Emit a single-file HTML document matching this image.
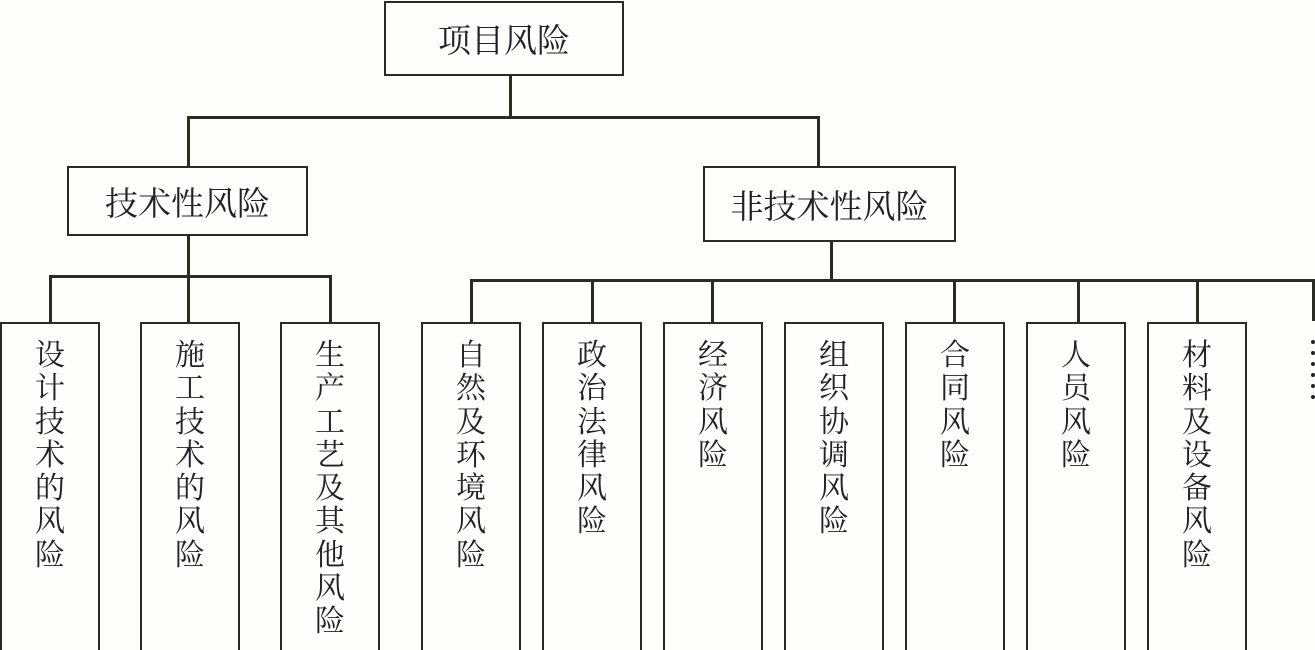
<!DOCTYPE html>
<html><head><meta charset="utf-8"><style>
body{margin:0;background:#fffefa;}
.c{position:relative;width:1315px;height:650px;overflow:hidden;font-family:"Liberation Serif","Noto Serif CJK SC","Noto Sans CJK SC",serif;color:#222;}
.b{position:absolute;border:2.5px solid #2b2b24;box-sizing:border-box;background:#fffefa;}
.h{display:flex;align-items:center;justify-content:center;font-size:33px;}
.v{font-size:30px;line-height:33.3px;width:32px;text-align:center;position:absolute;top:15px;left:50%;margin-left:-16px;}
.l{position:absolute;background:#2b2b24;}
.d{position:absolute;left:1311px;width:4px;height:4px;border-radius:50%;background:#222;}
</style></head><body><div class="c">
<div class="l" style="left:509px;top:75px;width:2.5px;height:43px"></div>
<div class="l" style="left:187px;top:116px;width:633px;height:2.5px"></div>
<div class="l" style="left:187px;top:116px;width:2.5px;height:50px"></div>
<div class="l" style="left:817px;top:116px;width:2.5px;height:50px"></div>
<div class="l" style="left:187px;top:235px;width:2.5px;height:88px"></div>
<div class="l" style="left:49px;top:275px;width:282px;height:2.5px"></div>
<div class="l" style="left:49px;top:275px;width:2.5px;height:48px"></div>
<div class="l" style="left:329px;top:275px;width:2.5px;height:48px"></div>
<div class="l" style="left:830px;top:241px;width:2.5px;height:40px"></div>
<div class="l" style="left:470px;top:279px;width:845px;height:2.5px"></div>
<div class="l" style="left:470px;top:279px;width:2.5px;height:44px"></div>
<div class="l" style="left:591px;top:279px;width:2.5px;height:44px"></div>
<div class="l" style="left:711px;top:279px;width:2.5px;height:44px"></div>
<div class="l" style="left:953px;top:279px;width:2.5px;height:44px"></div>
<div class="l" style="left:1077px;top:279px;width:2.5px;height:44px"></div>
<div class="l" style="left:1196px;top:279px;width:2.5px;height:44px"></div>
<div class="l" style="left:1312px;top:279px;width:2.5px;height:42px"></div>
<div class="d" style="top:340px"></div><div class="d" style="top:351px"></div><div class="d" style="top:362px"></div>
<div class="d" style="top:373px"></div><div class="d" style="top:384px"></div><div class="d" style="top:395px"></div>
<div class="b h" style="left:384px;top:1px;width:240px;height:75px">项目风险</div>
<div class="b h" style="left:67px;top:166px;width:241px;height:70px">技术性风险</div>
<div class="b h" style="left:703px;top:166px;width:253px;height:76px">非技术性风险</div>
<div class="b" style="left:0;top:322px;width:100px;height:340px"><div class="v">设计技术的风险</div></div>
<div class="b" style="left:140px;top:322px;width:100px;height:340px"><div class="v">施工技术的风险</div></div>
<div class="b" style="left:280px;top:322px;width:100px;height:340px"><div class="v">生产工艺及其他风险</div></div>
<div class="b" style="left:421px;top:322px;width:100px;height:340px"><div class="v">自然及环境风险</div></div>
<div class="b" style="left:542px;top:322px;width:100px;height:340px"><div class="v">政治法律风险</div></div>
<div class="b" style="left:663px;top:322px;width:100px;height:340px"><div class="v">经济风险</div></div>
<div class="b" style="left:784px;top:322px;width:100px;height:340px"><div class="v">组织协调风险</div></div>
<div class="b" style="left:905px;top:322px;width:100px;height:340px"><div class="v">合同风险</div></div>
<div class="b" style="left:1026px;top:322px;width:100px;height:340px"><div class="v">人员风险</div></div>
<div class="b" style="left:1147px;top:322px;width:100px;height:340px"><div class="v">材料及设备风险</div></div>
</div></body></html>
